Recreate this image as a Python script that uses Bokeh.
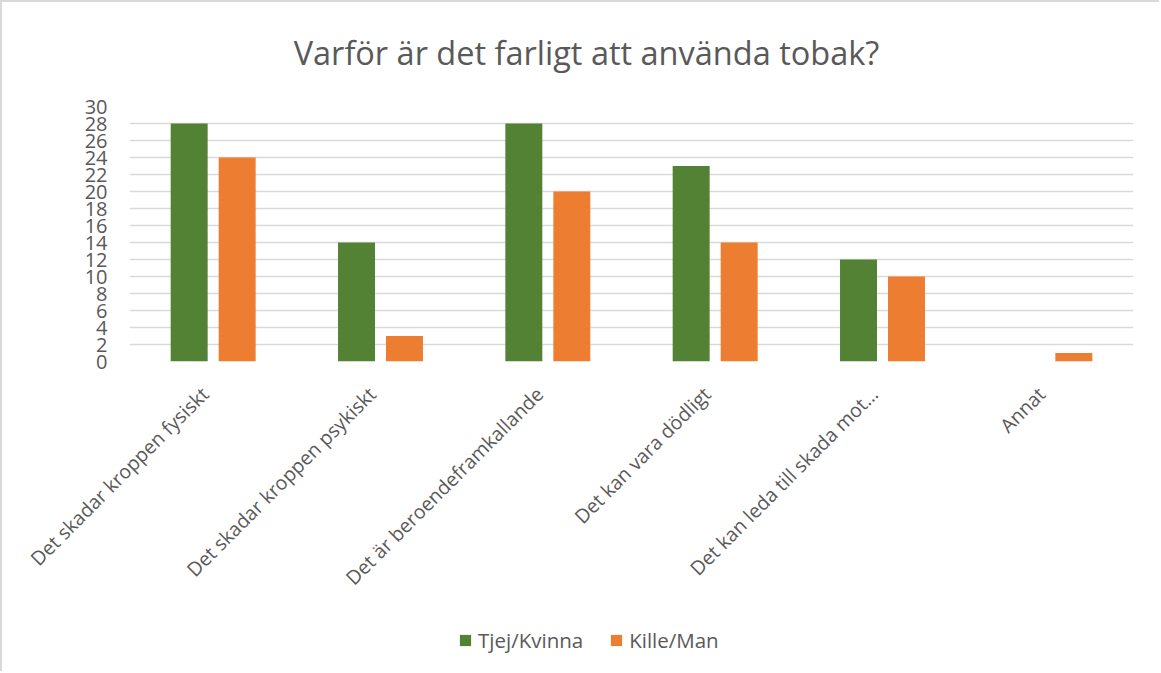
import numpy as np
from bokeh.plotting import figure
from bokeh.layouts import column
from bokeh.models import (Range1d, LinearAxis, FixedTicker, Legend, LegendItem,
                          ColumnDataSource, Label)
from bokeh.transform import dodge
from bokeh.embed import file_html
from bokeh.resources import INLINE

title = "Varför är det farligt att använda tobak?"
categories = ["Det skadar kroppen fysiskt", "Det skadar kroppen psykiskt",
              "Det är beroendeframkallande", "Det kan vara dödligt",
              "Det kan leda till skada mot…", "Annat"]
tjej = [28, 14, 28, 23, 12, 0]
kille = [24, 3, 20, 14, 10, 1]
series_names = ["Tjej/Kvinna", "Kille/Man"]
y_ticks = list(range(0, 31, 2))

GREEN = "#548235"
ORANGE = "#ED7D31"
TEXT = "#595959"
GRID = "#d9d9d9"
FONT = "Open Sans"
W = 1157


def strip(h):
    s = figure(width=W, height=h, output_backend="svg", toolbar_location=None,
               x_range=Range1d(0, 1), y_range=Range1d(0, 1),
               x_axis_location=None, y_axis_location=None,
               min_border=0, min_border_left=0, min_border_right=0,
               min_border_top=0, min_border_bottom=0)
    s.outline_line_color = None
    s.grid.visible = False
    return s


# ---- title strip
pt = strip(80)
pt.add_layout(Label(x=457, y=30, x_units="screen", y_units="screen", text=title,
                    text_font=FONT, text_font_size="32.5px", text_color=TEXT,
                    text_align="center", text_baseline="middle"))

# ---- main chart
pos = list(range(len(categories)))
src = ColumnDataSource(dict(pos=pos, tjej=tjej, kille=kille))

p = figure(width=W, height=544, output_backend="svg", toolbar_location=None,
           x_range=Range1d(-0.5, len(categories) - 0.5), y_range=Range1d(0, 30),
           x_axis_location=None,
           min_border_left=127, min_border_right=26, min_border_top=24,
           min_border_bottom=265)
p.outline_line_color = None

r1 = p.vbar(x=dodge("pos", -0.1434, range=p.x_range), top="tjej", width=0.221,
            source=src, fill_color=GREEN, line_color=None)
r2 = p.vbar(x=dodge("pos", 0.1434, range=p.x_range), top="kille", width=0.221,
            source=src, fill_color=ORANGE, line_color=None)

ya = p.yaxis[0]
ya.ticker = FixedTicker(ticks=y_ticks)
ya.axis_line_color = None
ya.major_tick_line_color = None
ya.minor_tick_line_color = None
ya.major_label_text_font = FONT
ya.major_label_text_font_size = "20px"
ya.major_label_text_color = TEXT
ya.major_label_standoff = 16

p.ygrid.ticker = FixedTicker(ticks=y_ticks)
p.ygrid.grid_line_color = GRID
p.ygrid.grid_line_width = 1.6
for g in p.xgrid:
    g.grid_line_color = None

# category labels axis (slightly shifted range to mimic Excel anchoring)
p.extra_x_ranges = {"lab": Range1d(-0.45, len(categories) - 0.45)}
xa = LinearAxis(x_range_name="lab", ticker=FixedTicker(ticks=pos),
                major_label_overrides={i: c for i, c in zip(pos, categories)})
xa.axis_line_color = None
xa.major_tick_line_color = None
xa.minor_tick_line_color = None
xa.major_label_orientation = np.pi / 4
xa.major_label_text_font = FONT
xa.major_label_text_font_size = "19.5px"
xa.major_label_text_color = TEXT
xa.major_label_standoff = 23
p.add_layout(xa, "below")

# ---- legend strip
pl = strip(45)
d1 = pl.vbar(x=[5], top=[5], bottom=[4], width=0.1, fill_color=GREEN, line_color=None)
d2 = pl.vbar(x=[5], top=[5], bottom=[4], width=0.1, fill_color=ORANGE, line_color=None)
legend = Legend(items=[LegendItem(label=series_names[0], renderers=[d1]),
                       LegendItem(label=series_names[1], renderers=[d2])],
                orientation="horizontal", location=(329, 17),
                glyph_width=14, glyph_height=14, label_standoff=6, spacing=26,
                padding=0, margin=0, border_line_color=None,
                background_fill_alpha=0, label_text_font=FONT,
                label_text_font_size="20.5px", label_text_color=TEXT,
                label_height=20)
pl.add_layout(legend, "center")

layout = column(pt, p, pl, spacing=0)
layout.styles = {"border-left": "2px solid #d9d9d9", "border-top": "2px solid #d9d9d9"}

open("out.html", "w").write(file_html(layout, INLINE))
